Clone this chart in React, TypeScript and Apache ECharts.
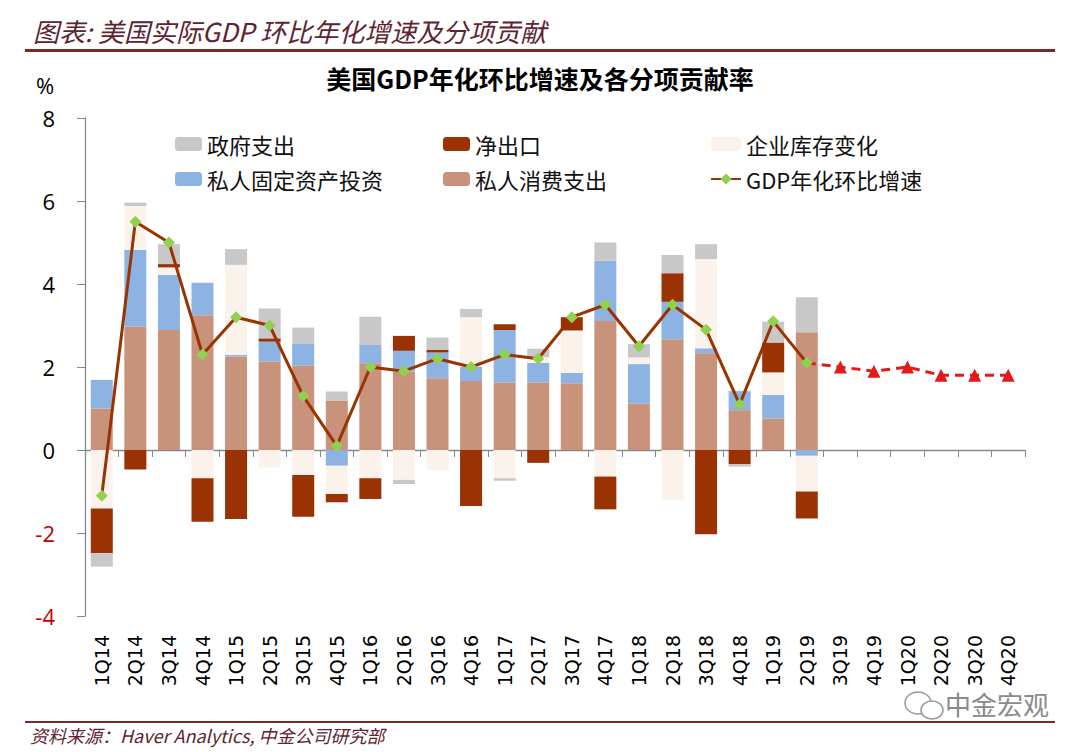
import React, { useEffect, useRef } from "react";
import * as echarts from "echarts";

const quarters = [
  "1Q14", "2Q14", "3Q14", "4Q14", "1Q15", "2Q15", "3Q15", "4Q15",
  "1Q16", "2Q16", "3Q16", "4Q16", "1Q17", "2Q17", "3Q17", "4Q17",
  "1Q18", "2Q18", "3Q18", "4Q18", "1Q19", "2Q19", "3Q19", "4Q19",
  "1Q20", "2Q20", "3Q20", "4Q20",
];

const consumption = [1.0, 2.97, 2.89, 3.25, 2.25, 2.13, 2.03, 1.19, 2.09, 1.89, 1.73, 1.66, 1.62, 1.62, 1.61, 3.11, 1.12, 2.67, 2.33, 0.96, 0.76, 2.84];
const investment = [0.69, 1.85, 1.33, 0.78, 0.04, 0.48, 0.54, -0.38, 0.44, 0.5, 0.62, 0.35, 1.27, 0.48, 0.25, 1.45, 0.95, 0.9, 0.12, 0.46, 0.57, -0.14];
const inventory = [-1.41, 1.06, 0.18, -0.68, 2.17, -0.42, -0.6, -0.68, -0.68, -0.72, -0.48, 1.19, -0.68, 0.14, 1.02, -0.64, 0.16, -1.2, 2.15, 0.05, 0.54, -0.86];
const netExports = [-1.08, -0.47, 0.08, -1.05, -1.66, 0.08, -1.01, -0.2, -0.5, 0.36, 0.06, -1.35, 0.14, -0.31, 0.32, -0.79, 0, 0.69, -2.03, -0.34, 0.72, -0.65];
const government = [-0.32, 0.08, 0.48, 0, 0.38, 0.72, 0.38, 0.22, 0.68, -0.1, 0.3, 0.2, -0.06, 0.2, 0, 0.44, 0.32, 0.44, 0.36, -0.06, 0.5, 0.84];
const gdpGrowth = [-1.1, 5.5, 5.0, 2.3, 3.2, 3.0, 1.3, 0.1, 2.0, 1.9, 2.2, 2.0, 2.3, 2.2, 3.2, 3.5, 2.5, 3.5, 2.9, 1.1, 3.1, 2.1];
const forecast = [2.0, 1.9, 2.0, 1.8, 1.8, 1.8];

const yTicks = { min: -4, max: 8, interval: 2 };

const CJK = "'Noto Sans CJK SC', 'Noto Sans', sans-serif";
const MAROON = "#5e2430";

function pad(arr: number[]): (number | null)[] {
  const out: (number | null)[] = arr.slice();
  while (out.length < quarters.length) out.push(null);
  return out;
}

export default function App() {
  const ref = useRef<HTMLDivElement>(null);

  useEffect(() => {
    if (!ref.current) return;
    const chart = echarts.init(ref.current, null, { renderer: "svg" });

    const lastIdx = gdpGrowth.length - 1;
    const forecastData: any[] = quarters.map(() => null);
    forecastData[lastIdx] = { value: gdpGrowth[lastIdx], symbol: "none" };
    forecast.forEach((v, i) => {
      forecastData[lastIdx + 1 + i] = v;
    });

    const barCommon = {
      type: "bar",
      stack: "total",
      barWidth: 22,
      xAxisIndex: 0,
      yAxisIndex: 0,
    };

    const legendText = { fontSize: 22, fontFamily: CJK, color: "#111" };

    chart.setOption({
      animation: false,
      backgroundColor: "#ffffff",
      title: {
        text: "美国GDP年化环比增速及各分项贡献率",
        left: "center",
        top: 60,
        textStyle: { fontSize: 25, fontWeight: "bold", fontFamily: CJK, color: "#000" },
      },
      legend: [
        {
          orient: "vertical",
          left: 170,
          top: 128,
          itemWidth: 27,
          itemHeight: 14,
          itemGap: 13,
          textStyle: legendText,
          data: ["政府支出", "私人固定资产投资"],
        },
        {
          orient: "vertical",
          left: 438,
          top: 128,
          itemWidth: 27,
          itemHeight: 14,
          itemGap: 13,
          textStyle: legendText,
          data: ["净出口", "私人消费支出"],
        },
        {
          orient: "vertical",
          left: 705,
          top: 128,
          itemWidth: 30,
          itemHeight: 14,
          itemGap: 13,
          textStyle: legendText,
          data: ["企业库存变化", "GDP年化环比增速"],
        },
      ],
      grid: { left: 85, right: 55, top: 118, bottom: 136, containLabel: false },
      xAxis: [
        {
          type: "category",
          data: quarters,
          position: "bottom",
          boundaryGap: true,
          axisLine: { show: false, onZero: false },
          axisTick: { show: false },
          axisLabel: {
            rotate: 90,
            interval: 0,
            margin: 19,
            fontSize: 19,
            fontFamily: "'DejaVu Sans', sans-serif",
            color: "#000",
          },
        },
        {
          type: "category",
          data: quarters,
          position: "bottom",
          boundaryGap: true,
          axisLine: { show: true, onZero: true, lineStyle: { color: "#888888", width: 1.3 } },
          axisTick: { show: true, length: 7, interval: 0, lineStyle: { color: "#888888" } },
          axisLabel: { show: false },
        },
      ],
      yAxis: {
        type: "value",
        min: yTicks.min,
        max: yTicks.max,
        interval: yTicks.interval,
        axisLine: { show: true, lineStyle: { color: "#888888", width: 1.3 } },
        axisTick: { show: true, length: 8, lineStyle: { color: "#888888" } },
        splitLine: { show: false },
        axisLabel: {
          margin: 30,
          fontSize: 22,
          fontFamily: "'Open Sans', sans-serif",
          formatter: (v: number) => (v < 0 ? `{neg|${v}}` : `{pos|${v}}`),
          rich: {
            neg: { color: "#c00000", fontSize: 22, fontFamily: "'Open Sans', sans-serif" },
            pos: { color: "#000000", fontSize: 22, fontFamily: "'Open Sans', sans-serif" },
          },
        },
      },
      series: [
        { ...barCommon, name: "私人消费支出", data: pad(consumption), itemStyle: { color: "#c8937a" } },
        { ...barCommon, name: "私人固定资产投资", data: pad(investment), itemStyle: { color: "#8db3e2" } },
        { ...barCommon, name: "企业库存变化", data: pad(inventory), itemStyle: { color: "#fbf3eb" } },
        { ...barCommon, name: "净出口", data: pad(netExports), itemStyle: { color: "#9a3204" } },
        { ...barCommon, name: "政府支出", data: pad(government), itemStyle: { color: "#c8c8c8" } },
        {
          type: "line",
          name: "预测",
          data: forecastData,
          xAxisIndex: 0,
          yAxisIndex: 0,
          z: 3,
          symbol: "triangle",
          symbolSize: 13,
          lineStyle: { color: "#e41a1a", width: 3, type: [9, 6] },
          itemStyle: { color: "#e41a1a" },
        },
        {
          type: "line",
          name: "GDP年化环比增速",
          data: pad(gdpGrowth),
          xAxisIndex: 0,
          yAxisIndex: 0,
          z: 5,
          symbol: "diamond",
          symbolSize: 12,
          lineStyle: { color: "#993300", width: 3 },
          itemStyle: { color: "#92d050" },
        },
      ],
      graphic: [
        {
          type: "text",
          left: 33,
          top: 17,
          style: {
            text: "图表: 美国实际GDP 环比年化增速及分项贡献",
            font: `italic 26px ${CJK}`,
            fill: MAROON,
          },
        },
        {
          type: "rect",
          shape: { x: 25, y: 49, width: 1030, height: 3 },
          style: { fill: "#7a2a2a" },
        },
        {
          type: "text",
          left: 36,
          top: 74,
          style: { text: "%", font: "22px 'Open Sans', sans-serif", fill: "#000" },
        },
        {
          type: "rect",
          shape: { x: 25, y: 721, width: 1030, height: 2 },
          style: { fill: "#7a2a2a" },
        },
        {
          type: "text",
          left: 30,
          top: 726,
          style: {
            text: "资料来源：Haver Analytics, 中金公司研究部",
            font: `italic 18px ${CJK}`,
            fill: MAROON,
          },
        },
        {
          type: "ellipse",
          shape: { cx: 918, cy: 703, rx: 13, ry: 11 },
          style: { fill: "none", stroke: "#9a9a9a", lineWidth: 1.5 },
        },
        {
          type: "ellipse",
          shape: { cx: 932, cy: 710, rx: 11, ry: 9 },
          style: { fill: "#ffffff", stroke: "#9a9a9a", lineWidth: 1.5 },
        },
        {
          type: "text",
          left: 945,
          top: 690,
          style: { text: "中金宏观", font: `26px ${CJK}`, fill: "#8a8a8a" },
        },
      ],
    });

    return () => chart.dispose();
  }, []);

  return (
    <div
      ref={ref}
      style={{ position: "fixed", left: 0, top: 0, width: 1080, height: 752, background: "#fff" }}
    />
  );
}
